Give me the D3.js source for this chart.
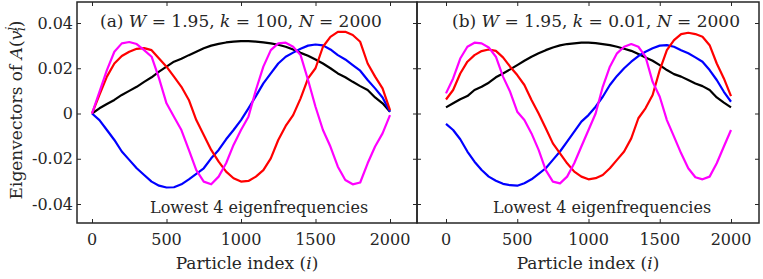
<!DOCTYPE html>
<html><head><meta charset="utf-8">
<script src="https://cdn.jsdelivr.net/npm/d3@7"></script>
<style>
body{margin:0;background:#fff;}
svg text{fill:#262626;}
</style></head>
<body><svg id="c" width="763" height="279"></svg>
<script>
// particle indices
const idx = [0,50,100,150,200,250,300,350,400,450,500,550,600,650,700,750,800,850,900,950,1000,
1050,1100,1150,1200,1250,1300,1350,1400,1450,1500,1550,1600,1650,1700,1750,1800,1850,1900,1950,2000];
const xTicks = [0,500,1000,1500,2000];
const yTicks = [-0.04,-0.02,0,0.02,0.04];
const yTickLabels = ["-0.04","-0.02","0","0.02","0.04"];
const colors = ["#000000","#0000ff","#ff0000","#ff00ff"];

// panel (a) W=1.95, k=100
const aBlack = [0,0.0023,0.0042,0.006,0.0082,0.010,0.0118,0.014,0.016,0.0185,0.0207,0.0229,0.0242,0.0258,0.0273,0.0288,0.030,0.0308,0.0314,0.0318,0.032,
0.032,0.0318,0.0314,0.031,0.0304,0.0295,0.0283,0.0268,0.0255,0.0239,0.0221,0.020,0.0177,0.016,0.014,0.0121,0.0104,0.0071,0.0045,0.0008];
const aBlue = [0,-0.0029,-0.0073,-0.0117,-0.0168,-0.0205,-0.0242,-0.0272,-0.0301,-0.0319,-0.0327,-0.0326,-0.0313,-0.0291,-0.0267,-0.0242,-0.0198,-0.0161,-0.0114,-0.0073,-0.0029,
0.0023,0.0077,0.0133,0.0177,0.0221,0.0251,0.0269,0.0286,0.030,0.0305,0.0301,0.0283,0.0258,0.0239,0.0214,0.0189,0.0148,0.0111,0.0071,0.0008];
const aRed = [0,0.0082,0.0163,0.0221,0.0254,0.0273,0.0286,0.0289,0.028,0.0243,0.0207,0.0163,0.0118,0.006,-0.0029,-0.0095,-0.0161,-0.0213,-0.0257,-0.0286,-0.0301,
-0.0298,-0.0279,-0.025,-0.0198,-0.0117,-0.0055,-0.0007,0.0067,0.0155,0.020,0.0295,0.0339,0.0361,0.0361,0.0347,0.0317,0.0221,0.0163,0.0111,0.0015];
const aMagenta = [0,0.0096,0.0192,0.0273,0.031,0.0316,0.0307,0.028,0.0251,0.0155,0.0045,-0.0014,-0.0073,-0.0161,-0.025,-0.0301,-0.0313,-0.0279,-0.022,-0.0139,-0.0073,
-0.0014,0.0104,0.0207,0.028,0.031,0.0313,0.0295,0.0258,0.0148,0.003,-0.0073,-0.0146,-0.0235,-0.0294,-0.0313,-0.0305,-0.022,-0.0146,-0.0088,-0.0007];

// panel (b) W=1.95, k=0.01
const bBlack = [0.0027,0.0045,0.0063,0.0077,0.0104,0.0118,0.0136,0.016,0.0177,0.0195,0.0214,0.0233,0.0251,0.0266,0.028,0.0292,0.0301,0.0307,0.031,0.0313,0.0313,
0.0311,0.0307,0.0302,0.0295,0.0286,0.0277,0.0263,0.0248,0.0233,0.0214,0.0192,0.0174,0.0163,0.0148,0.0133,0.0121,0.0104,0.0071,0.0048,0.0027];
const bBlue = [-0.0046,-0.0073,-0.0114,-0.0168,-0.0213,-0.025,-0.0279,-0.0297,-0.0311,-0.0317,-0.0319,-0.0308,-0.0291,-0.0267,-0.0242,-0.0205,-0.0168,-0.0124,-0.008,-0.0036,-0.0007,
0.003,0.0074,0.0126,0.0166,0.020,0.0229,0.0254,0.0273,0.0288,0.030,0.0302,0.0295,0.028,0.0266,0.0248,0.0229,0.0192,0.0148,0.0096,0.0052];
const bRed = [0.0062,0.0104,0.0177,0.0229,0.0258,0.0276,0.0283,0.0277,0.0248,0.0207,0.017,0.0126,0.006,0,-0.0065,-0.0132,-0.0176,-0.022,-0.0257,-0.0279,-0.0291,
-0.0286,-0.0272,-0.0242,-0.0205,-0.0168,-0.011,-0.0021,0.0023,0.0082,0.0192,0.028,0.0324,0.0351,0.0357,0.0351,0.0339,0.0302,0.0221,0.0155,0.0077];
const bMagenta = [0.0089,0.0155,0.0243,0.0295,0.0313,0.031,0.0292,0.0251,0.0163,0.0096,0.0008,-0.0029,-0.0088,-0.0161,-0.025,-0.0301,-0.0309,-0.0279,-0.022,-0.0146,-0.0073,
0,0.0118,0.0207,0.0266,0.0295,0.0307,0.0295,0.0251,0.014,0.0074,-0.0029,-0.0102,-0.0176,-0.0242,-0.0282,-0.0291,-0.0279,-0.022,-0.0146,-0.0073];

const panels = [
  {label:"(a)", k:"100", series:[aBlack,aBlue,aRed,aMagenta], box:[77,417], xr:[92,390], showY:true},
  {label:"(b)", k:"0.01", series:[bBlack,bBlue,bRed,bMagenta], box:[417,759], xr:[446,731], showY:false}
];

const FONT = "DejaVu Serif";
const svg = d3.select("#c");
const plotTop = 2, plotBottom = 223;
const y = d3.scaleLinear().domain([-0.04,0.04]).range([204,23]);
const axisColor = "#262626";

panels.forEach((p,pi)=>{
  const x = d3.scaleLinear().domain([0,2000]).range(p.xr);
  const g = svg.append("g");
  const clipId = "clip"+pi;
  svg.append("clipPath").attr("id",clipId).append("rect")
    .attr("x",p.box[0]).attr("y",plotTop).attr("width",p.box[1]-p.box[0]).attr("height",plotBottom-plotTop);
  const line = d3.line().x((d,i)=>x(idx[i])).y(d=>y(d));
  p.series.forEach((s,si)=>{
    g.append("path").datum(s).attr("d",line).attr("fill","none")
     .attr("stroke",colors[si]).attr("stroke-width",2.2).attr("stroke-linejoin","round")
     .attr("clip-path",`url(#${clipId})`);
  });
  g.append("rect").attr("x",p.box[0]).attr("y",plotTop).attr("width",p.box[1]-p.box[0]).attr("height",plotBottom-plotTop)
    .attr("fill","none").attr("stroke",axisColor).attr("stroke-width",1.5);
  const xb = d3.axisBottom(x).tickValues(xTicks).tickSize(-4).tickFormat("");
  const xt = d3.axisTop(x).tickValues(xTicks).tickSize(-4).tickFormat("");
  const yl = d3.axisLeft(y).tickValues(yTicks).tickSize(-4).tickFormat("");
  const yr = d3.axisRight(y).tickValues(yTicks).tickSize(-4).tickFormat("");
  [[xb,`translate(0,${plotBottom})`],[xt,`translate(0,${plotTop})`],[yl,`translate(${p.box[0]},0)`],[yr,`translate(${p.box[1]},0)`]].forEach(([ax,tr])=>{
    const a = g.append("g").attr("transform",tr).call(ax);
    a.select(".domain").remove();
    a.selectAll("line").attr("stroke",axisColor).attr("stroke-width",1);
  });
  g.selectAll(".xtl").data(xTicks).enter().append("text").attr("font-family",FONT)
    .attr("x",d=>x(d)).attr("y",245).attr("text-anchor","middle").attr("font-size",16).text(d=>d);
  if(p.showY){
    g.selectAll(".ytl").data(yTicks).enter().append("text").attr("font-family",FONT)
      .attr("x",p.box[0]-4).attr("y",d=>y(d)).attr("dy","0.35em").attr("text-anchor","end")
      .attr("font-size",16).text((d,i)=>yTickLabels[i]);
  }
  const xl = g.append("text").attr("font-family",FONT).attr("x",(p.box[0]+p.box[1])/2).attr("y",269).attr("text-anchor","middle").attr("font-size",17);
  xl.append("tspan").text("Particle index (");
  xl.append("tspan").attr("font-style","italic").text("i");
  xl.append("tspan").text(")");
  const t = g.append("text").attr("font-family",FONT).attr("x",x(0)+(pi==0?8:6)).attr("y",27).attr("font-size",17);
  t.append("tspan").text(p.label+" ");
  t.append("tspan").attr("font-style","italic").text("W");
  t.append("tspan").text(" = 1.95, ");
  t.append("tspan").attr("font-style","italic").text("k");
  t.append("tspan").text(" = "+p.k+", ");
  t.append("tspan").attr("font-style","italic").text("N");
  t.append("tspan").text(" = 2000");
  g.append("text").attr("font-family",FONT).attr("x",(pi==0?150:493)).attr("y",213).attr("font-size",16).text("Lowest 4 eigenfrequencies");
});

const ylab = svg.append("text").attr("font-family",FONT).attr("transform","translate(22,110) rotate(-90)").attr("text-anchor","middle").attr("font-size",17);
ylab.append("tspan").text("Eigenvectors of ");
ylab.append("tspan").attr("font-style","italic").text("A");
ylab.append("tspan").text("(");
ylab.append("tspan").attr("font-style","italic").text("v");
ylab.append("tspan").attr("font-style","italic").attr("font-size",12).attr("dy",-7).text("j");
ylab.append("tspan").attr("font-style","italic").attr("font-size",12).attr("dx",-4).attr("dy",10).text("i");
ylab.append("tspan").attr("dy",-3).text(")");
</script></body></html>
